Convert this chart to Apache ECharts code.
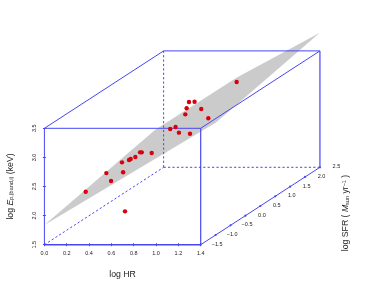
<!DOCTYPE html>
<html><head><meta charset="utf-8">
<style>html,body{margin:0;padding:0;background:#fff}#c{width:374px;height:307px}</style>
<script src="https://cdn.jsdelivr.net/npm/echarts@6/dist/echarts.min.js"></script>
</head><body><div id="c"></div>
<script>
const hrTicks = [0,0.2,0.4,0.6,0.8,1.0,1.2,1.4];
const epTicks = [1.5,2.0,2.5,3.0,3.5];
const sfrTicks = [-1.5,-1.0,-0.5,0.0,0.5,1.0,1.5,2.0,2.5];
const pointHR = [0.37,0.555,0.597,0.695,0.705,0.722,0.758,0.773,0.815,0.857,0.872,0.961,1.127,1.175,1.205,1.304,1.262,1.274,1.295,1.345,1.405,1.468,1.722];
const pointEp = [2.41,2.73,2.595,2.915,2.745,2.073,2.955,2.973,3.007,3.087,3.087,3.076,3.488,3.522,3.425,3.407,3.74,3.844,3.952,3.957,3.832,3.672,4.296];
const planeHR = [0,0.99,1.72,2.467,1.537];
const planeEp = [1.84,3.47,4.37,5.143,3.6];
const DEPTH_HR = 1.068, DEPTH_EP = 1.33;
const BLUE = '#4646f4';
const FONT = '"Liberation Sans", Arial, sans-serif';

const HR0=0,HR1=1.4,EP0=1.5,EP1=3.5,S0=-1.5,S1=2.5;
function project(hr,ep,sfr){const f=(sfr-S0)/(S1-S0);return [hr+f*DEPTH_HR, ep+f*DEPTH_EP];}
const edges=[
  [[HR0,EP0,S0],[HR0,EP0,S1],true,1],
  [[HR0,EP0,S1],[HR1,EP0,S1],true,1],
  [[HR0,EP0,S1],[HR0,EP1,S1],true,1],
  [[HR0,EP1,S0],[HR0,EP1,S1],false,1],
  [[HR1,EP1,S0],[HR1,EP1,S1],false,1],
  [[HR1,EP0,S0],[HR1,EP0,S1],false,1],
  [[HR0,EP1,S1],[HR1,EP1,S1],false,1],
  [[HR1,EP0,S1],[HR1,EP1,S1],false,1.2],
  [[HR0,EP0,S0],[HR1,EP0,S0],false,1.4],
  [[HR0,EP1,S0],[HR1,EP1,S0],false,1],
  [[HR0,EP0,S0],[HR0,EP1,S0],false,1],
  [[HR1,EP0,S0],[HR1,EP1,S0],false,1.2]
];
const series=[
  {type:'custom',clip:false,silent:true,animation:false,z:2,
   data:[0],
   renderItem(p,api){
     return {type:'polygon',shape:{points:planeHR.map((h,i)=>api.coord([h,planeEp[i]]))},style:{fill:'#cbcbcb'}};
   }},
  {type:'custom',clip:false,silent:true,animation:false,z:4,
   data:edges.map((e,i)=>i),
   renderItem(p,api){
     const e=edges[api.value(0)];
     const a=api.coord(project(...e[0])),b=api.coord(project(...e[1]));
     return {type:'line',shape:{x1:a[0],y1:a[1],x2:b[0],y2:b[1]},
       style:{stroke:BLUE,lineWidth:e[3],lineDash:e[2]?[2.2,2.2]:null,fill:null}};
   }},
  {type:'scatter',clip:false,silent:true,animation:false,z:5,symbol:'circle',symbolSize:2.2,
   data:sfrTicks.map(s=>({value:project(HR1,EP0,s),sfr:s})),
   itemStyle:{color:BLUE,opacity:1},
   label:{show:true,position:'inside',offset:[16.5,-0.5],fontFamily:FONT,fontSize:5.5,color:'#222',
     formatter:p=>{const s=p.data.sfr;return (s<0?'\u2212':'')+Math.abs(s).toFixed(1);}}},
  {type:'scatter',clip:false,silent:true,animation:false,z:6,symbol:'circle',symbolSize:4.4,
   data:pointHR.map((h,i)=>[h,pointEp[i]]),
   itemStyle:{color:'#d6000f',opacity:1}}
];
const chart=echarts.init(document.getElementById('c'),null,{renderer:'canvas'});
chart.setOption({
  animation:false,
  backgroundColor:'#fff',
  grid:{left:44.4,top:128.3,width:156.3,height:116.4,containLabel:false},
  xAxis:{type:'value',min:HR0,max:HR1,interval:0.2,offset:-1.5,
    splitLine:{show:false},axisLine:{show:false},
    axisTick:{show:true,length:3,lineStyle:{color:BLUE,width:1}},
    axisLabel:{show:true,margin:7.5,fontFamily:FONT,fontSize:5.5,color:'#222',hideOverlap:false,showMinLabel:true,showMaxLabel:true,
      formatter:v=>v.toFixed(1)},
    name:'log HR',nameLocation:'middle',nameGap:26.5,
    nameTextStyle:{fontFamily:FONT,fontSize:8.7,color:'#222'}},
  yAxis:{type:'value',min:EP0,max:EP1,interval:0.5,offset:-1.5,
    splitLine:{show:false},axisLine:{show:false},
    axisTick:{show:true,length:3,lineStyle:{color:BLUE,width:1}},
    axisLabel:{show:true,rotate:90,margin:8.5,fontFamily:FONT,fontSize:5.5,color:'#222',align:'center',verticalAlign:'bottom',showMinLabel:true,showMaxLabel:true,
      formatter:v=>v.toFixed(1)},
    name:'{n|log }{i|E}{s|p,(band,i)}{n| (keV)}',nameLocation:'middle',nameRotate:90,nameGap:31,
    nameTextStyle:{fontFamily:FONT,fontSize:8.7,color:'#222',
      rich:{n:{fontFamily:FONT,fontSize:8.7,color:'#222'},i:{fontFamily:FONT,fontSize:8.7,fontStyle:'italic',color:'#222'},
        s:{fontFamily:FONT,fontSize:5.5,color:'#222',verticalAlign:'bottom',padding:[3,0,0,0]}}}},
  graphic:[{type:'text',x:346,y:213,rotation:Math.PI/2,z:10,silent:true,
    style:{text:'{n|log SFR ( }{i|M}{s|sun}{n| yr}{u|\u22121}{n| )}',align:'center',verticalAlign:'middle',fontFamily:FONT,
      rich:{n:{fontFamily:FONT,fontSize:8.7,fill:'#222'},i:{fontFamily:FONT,fontSize:8.7,fontStyle:'italic',fill:'#222'},
        s:{fontFamily:FONT,fontSize:5.5,fill:'#222',verticalAlign:'bottom',padding:[3,0,0,0]},
        u:{fontFamily:FONT,fontSize:5.5,fill:'#222',verticalAlign:'top',padding:[0,0,3,0]}}}}],
  series
});
</script></body></html>
